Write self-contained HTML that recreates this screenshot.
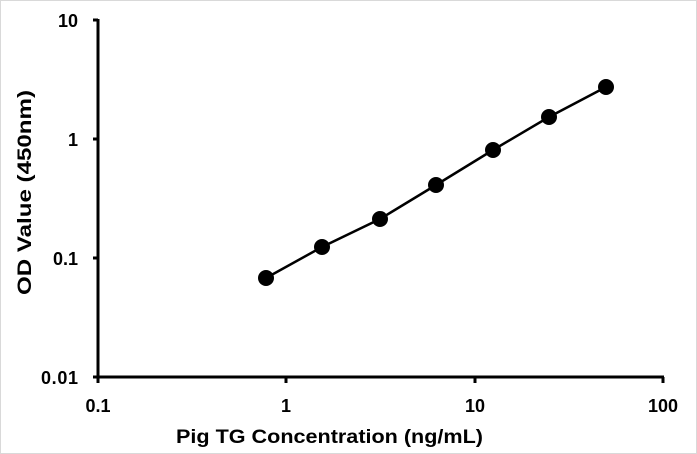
<!DOCTYPE html>
<html><head><meta charset="utf-8"><style>
html,body{margin:0;padding:0;background:#fff}
svg{display:block}
text{font-family:"Liberation Sans",sans-serif;font-weight:bold;fill:#000}
</style></head><body>
<svg width="697" height="454" viewBox="0 0 697 454" xmlns="http://www.w3.org/2000/svg">
<rect x="0.5" y="0.5" width="696" height="453" fill="#fff" stroke="#d9d9d9"/>
<g stroke="#000" stroke-width="3" fill="none">
<line x1="98" y1="19" x2="98" y2="378"/>
<line x1="97" y1="377" x2="664" y2="377"/>
<line x1="93" y1="20" x2="98" y2="20"/>
<line x1="93" y1="139" x2="98" y2="139"/>
<line x1="93" y1="258" x2="98" y2="258"/>
<line x1="93" y1="377" x2="98" y2="377"/>
<line x1="98" y1="377" x2="98" y2="383"/>
<line x1="286" y1="377" x2="286" y2="383"/>
<line x1="475" y1="377" x2="475" y2="383"/>
<line x1="663" y1="377" x2="663" y2="383"/>
</g>
<polyline points="266,278 322,247 380,219 436,185 493,150 549,117 606,87" fill="none" stroke="#000" stroke-width="2.5"/>
<g fill="#000">
<circle cx="266" cy="278" r="8"/><circle cx="322" cy="247" r="8"/><circle cx="380" cy="219" r="8"/>
<circle cx="436" cy="185" r="8"/><circle cx="493" cy="150" r="8"/><circle cx="549" cy="117" r="8"/>
<circle cx="606" cy="87" r="8"/>
</g>
<g font-size="18" text-anchor="end">
<text x="78" y="27">10</text>
<text x="78" y="146">1</text>
<text x="78" y="265">0.1</text>
<text x="78" y="384" textLength="37">0.01</text>
</g>
<g font-size="18" text-anchor="middle">
<text x="98" y="412">0.1</text>
<text x="286" y="412">1</text>
<text x="475" y="412">10</text>
<text x="663" y="412">100</text>
</g>
<text x="176" y="443" font-size="19" textLength="307" lengthAdjust="spacingAndGlyphs">Pig TG Concentration  (ng/mL)</text>
<text transform="translate(31,295) rotate(-90)" font-size="19" textLength="205" lengthAdjust="spacingAndGlyphs">OD Value (450nm)</text>
</svg>
</body></html>
